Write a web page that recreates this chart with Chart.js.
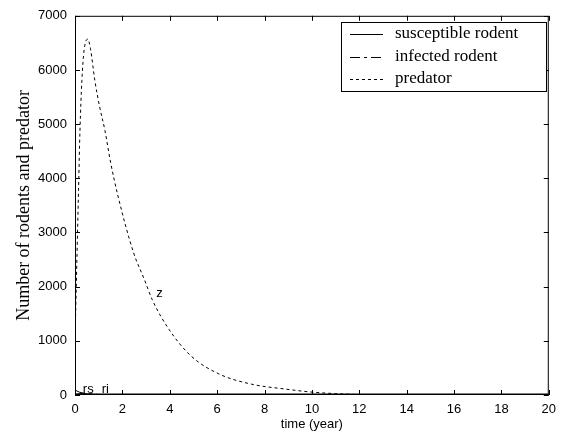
<!DOCTYPE html>
<html>
<head>
<meta charset="utf-8">
<script src="https://cdn.jsdelivr.net/npm/chart.js@4"></script>
<style>
  html, body { margin: 0; padding: 0; background: #fff; }
  #wrap { width: 563px; height: 439px; }
</style>
</head>
<body>
<div id="wrap"><canvas id="c"></canvas></div>
<script>
// predator curve (time in years, count)
const predT = [0, 0.08, 0.15, 0.21, 0.29, 0.38, 0.54, 0.65, 0.84, 1.05, 1.26, 1.5, 1.8, 2.47, 2.93, 3.26, 3.97, 4.9, 6.07, 7.45, 8.87, 9.96, 11, 12, 13, 20];
const predY = [1000, 2500, 3800, 4890, 5800, 6350, 6570, 6400, 5800, 5300, 4890, 4300, 3700, 2630, 2130, 1760, 1210, 720, 390, 200, 110, 55, 25, 8, 0, 0];

// rodents stay near zero
const rsT = [0, 0.2, 0.5, 1, 2, 20];
const rsY = [90, 50, 20, 5, 0, 0];
const riT = [0, 0.3, 0.6, 1, 2, 20];
const riY = [10, 30, 25, 10, 1, 0];

const seriesNames = ['susceptible rodent', 'infected rodent', 'predator'];
const xTicks = [0, 2, 4, 6, 8, 10, 12, 14, 16, 18, 20];
const yTicks = [0, 1000, 2000, 3000, 4000, 5000, 6000, 7000];

// curve labels: [text, x, y]
const curveLabels = [['rs', 0.33, 40], ['ri', 1.13, 40], ['z', 3.43, 1800]];

const toPts = (t, y) => t.map((v, i) => ({ x: v, y: y[i] }));

const DASH = { solid: [], dashdot: [10, 4, 3, 4], dashed: [3, 3] };

const boxPlugin = {
    id: 'box',
    afterDraw(chart) {
        const { ctx, chartArea: a, scales: { x, y } } = chart;
        ctx.save();
        ctx.strokeStyle = '#000';
        ctx.lineWidth = 1;
        ctx.setLineDash([]);
        ctx.strokeRect(a.left + 0.5, a.top + 0.5, a.right - a.left - 1, a.bottom - a.top - 1);
        // thicker bottom edge, as in the original
        ctx.beginPath();
        ctx.moveTo(a.left, a.bottom - 1);
        ctx.lineTo(a.right, a.bottom - 1);
        ctx.stroke();
        // inward ticks on all four sides
        ctx.beginPath();
        xTicks.forEach(v => {
            const px = Math.round(x.getPixelForValue(v)) + 0.5;
            ctx.moveTo(px, a.bottom); ctx.lineTo(px, a.bottom - 5);
            ctx.moveTo(px, a.top); ctx.lineTo(px, a.top + 5);
        });
        yTicks.forEach(v => {
            const py = Math.round(y.getPixelForValue(v)) + 0.5;
            ctx.moveTo(a.left, py); ctx.lineTo(a.left + 5, py);
            ctx.moveTo(a.right, py); ctx.lineTo(a.right - 5, py);
        });
        ctx.stroke();

        // curve labels
        ctx.fillStyle = '#000';
        ctx.textAlign = 'left';
        ctx.font = '13px "Liberation Sans", Arial, sans-serif';
        ctx.textBaseline = 'alphabetic';
        curveLabels.forEach(([t, vx, vy]) => {
            ctx.fillText(t, x.getPixelForValue(vx), y.getPixelForValue(vy));
        });

        // legend box (top right, inside axes)
        const lx = 341, ly = 22, lw = 205, lh = 69;
        ctx.fillStyle = '#fff';
        ctx.fillRect(lx, ly, lw, lh);
        ctx.strokeRect(lx + 0.5, ly + 0.5, lw, lh);
        const styles = [DASH.solid, DASH.dashdot, DASH.dashed];
        const rows = [34, 57, 79];
        ctx.font = '17px "Liberation Serif", "Times New Roman", serif';
        ctx.textBaseline = 'middle';
        ctx.textAlign = 'left';
        seriesNames.forEach((name, i) => {
            ctx.setLineDash(styles[i]);
            ctx.beginPath();
            ctx.moveTo(350, rows[i] + 0.5);
            ctx.lineTo(383, rows[i] + 0.5);
            ctx.stroke();
            ctx.fillStyle = '#000';
            ctx.fillText(name, 395, rows[i]);
        });
        ctx.restore();
    }
};

new Chart(document.getElementById('c'), {
    type: 'line',
    data: {
        datasets: [
            {
                label: seriesNames[0],
                data: toPts(rsT, rsY),
                borderColor: '#000',
                borderWidth: 1,
                pointRadius: 0,
                tension: 0
            },
            {
                label: seriesNames[1],
                data: toPts(riT, riY),
                borderColor: '#000',
                borderWidth: 1,
                borderDash: DASH.dashdot,
                pointRadius: 0,
                tension: 0
            },
            {
                label: seriesNames[2],
                data: toPts(predT, predY),
                borderColor: '#000',
                borderWidth: 1,
                borderDash: DASH.dashed,
                pointRadius: 0,
                cubicInterpolationMode: 'monotone'
            }
        ]
    },
    options: {
        responsive: true,
        maintainAspectRatio: false,
        animation: false,
        layout: { padding: { top: 14, right: 10, left: 0, bottom: 0 } },
        plugins: { legend: { display: false }, tooltip: { enabled: false } },
        scales: {
            x: {
                type: 'linear',
                min: 0, max: 20,
                afterFit: s => { s.height = 44; },
                afterBuildTicks: s => { s.ticks = xTicks.map(v => ({ value: v })); },
                grid: { display: false, drawTicks: false },
                border: { display: false },
                ticks: {
                    color: '#000',
                    padding: 7,
                    maxRotation: 0,
                    callback: v => String(v),
                    font: { family: '"Liberation Sans", Arial, sans-serif', size: 13 }
                },
                title: {
                    display: true,
                    text: 'time (year)',
                    color: '#000',
                    padding: { top: 0, bottom: 7 },
                    font: { family: '"Liberation Sans", Arial, sans-serif', size: 13 }
                }
            },
            y: {
                min: 0, max: 7000,
                afterFit: s => { s.width = 75; },
                afterBuildTicks: s => { s.ticks = yTicks.map(v => ({ value: v })); },
                grid: { display: false, drawTicks: false },
                border: { display: false },
                ticks: {
                    color: '#000',
                    padding: 8,
                    callback: v => String(v),
                    font: { family: '"Liberation Sans", Arial, sans-serif', size: 13 }
                },
                title: {
                    display: true,
                    text: 'Number of rodents and predator',
                    color: '#000',
                    padding: { top: 13, bottom: 0 },
                    font: { family: '"Liberation Serif", "Times New Roman", serif', size: 18 }
                }
            }
        }
    },
    plugins: [boxPlugin]
});
</script>
</body>
</html>
